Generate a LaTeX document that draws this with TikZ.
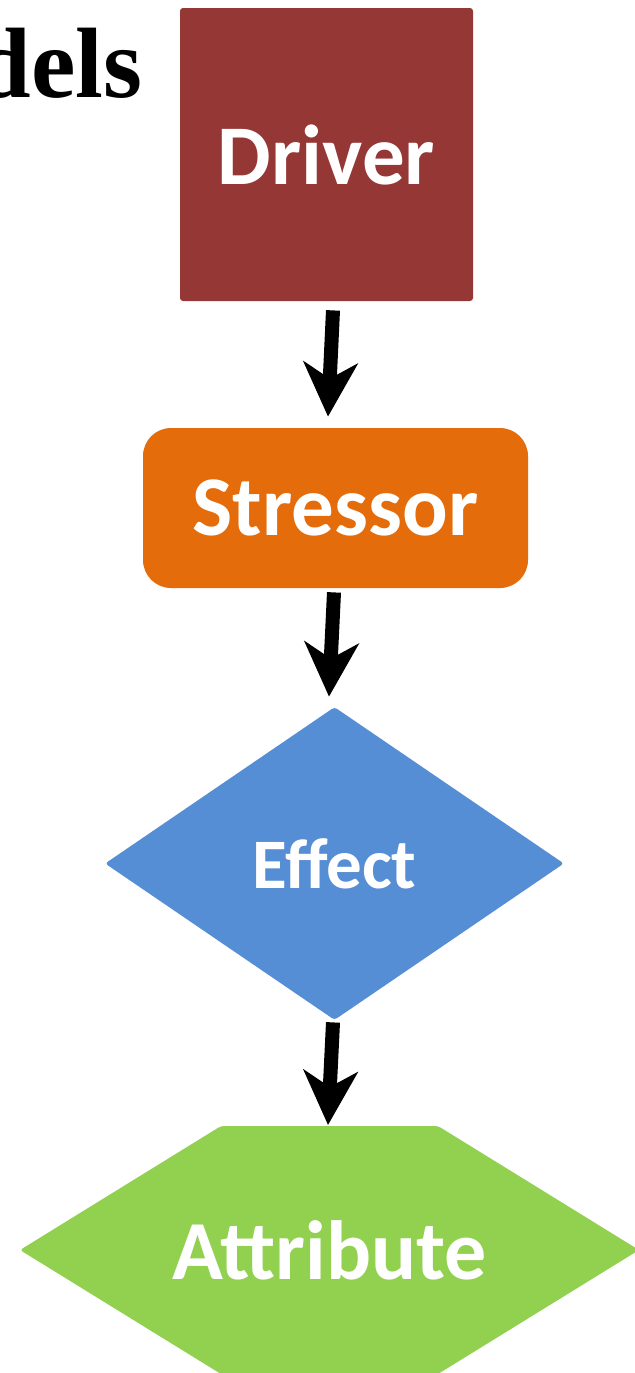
\documentclass[tikz,border=0pt]{standalone}
\usepackage{fontspec}
\setmainfont{Liberation Serif}
\newfontfamily\boxfont{Carlito}
\usetikzlibrary{shapes.geometric,arrows.meta}
\definecolor{driverred}{HTML}{953735}
\definecolor{stressorange}{HTML}{E46C0A}
\definecolor{effectblue}{HTML}{558ED5}
\definecolor{attrgreen}{HTML}{92D050}
\tikzset{
  label text/.style={text=white,font=\boxfont\bfseries\fontsize{42.5pt}{50pt}\selectfont},
  flow/.style={line width=7pt,-{Stealth[length=27pt,width=27pt,inset=8pt]}}
}
\begin{document}
\begin{tikzpicture}[x=0.5pt,y=-0.5pt]
\useasboundingbox (0,0) rectangle (635,1373);
\clip (0,0) rectangle (635,1373);
% heading fragment at the top left
\node[anchor=base east,inner sep=0,font=\bfseries\fontsize{50pt}{56pt}\selectfont] (title) at (143,97) {dels};
% boxes
\node[label text,fill=driverred,rounded corners=1.5pt,minimum width=146.5pt,minimum height=146.5pt,inner sep=0] (driver) at (326.5,154.5) {Driver};
\node[label text,fill=stressorange,rounded corners=14pt,minimum width=192.5pt,minimum height=80pt,inner sep=0] (stressor) at (335.5,508) {Stressor};
\node[label text,font=\boxfont\bfseries\fontsize{35.5pt}{42pt}\selectfont,diamond,fill=effectblue,rounded corners=1.5pt,minimum width=229.5pt,minimum height=156.5pt,inner sep=0] (effect) at (334.5,863.5) {Effect};
% hexagon for the attribute
\coordinate (attrtop) at (329.5,1126);
\fill[attrgreen,rounded corners=1.5pt] (221,1126) -- (438,1126) -- (639,1250) -- (438,1374) -- (221,1374) -- (20,1250) -- cycle;
\node[label text,font=\boxfont\bfseries\fontsize{42pt}{50pt}\selectfont,inner sep=0] (attribute) at (329.5,1250) {Attribute};
% connectors
\draw[flow] ([xshift=3.25pt,yshift=-4.5pt]driver.south) -- ([xshift=-3.75pt,yshift=5.5pt]stressor.north);
\draw[flow] ([xshift=-0.75pt,yshift=-2pt]stressor.south) -- ([xshift=-2.75pt,yshift=5pt]effect.north);
\draw[flow] ([xshift=-0.75pt,yshift=-1pt]effect.south) -- ([xshift=-0.75pt,yshift=0.5pt]attrtop);
\end{tikzpicture}
\end{document}
